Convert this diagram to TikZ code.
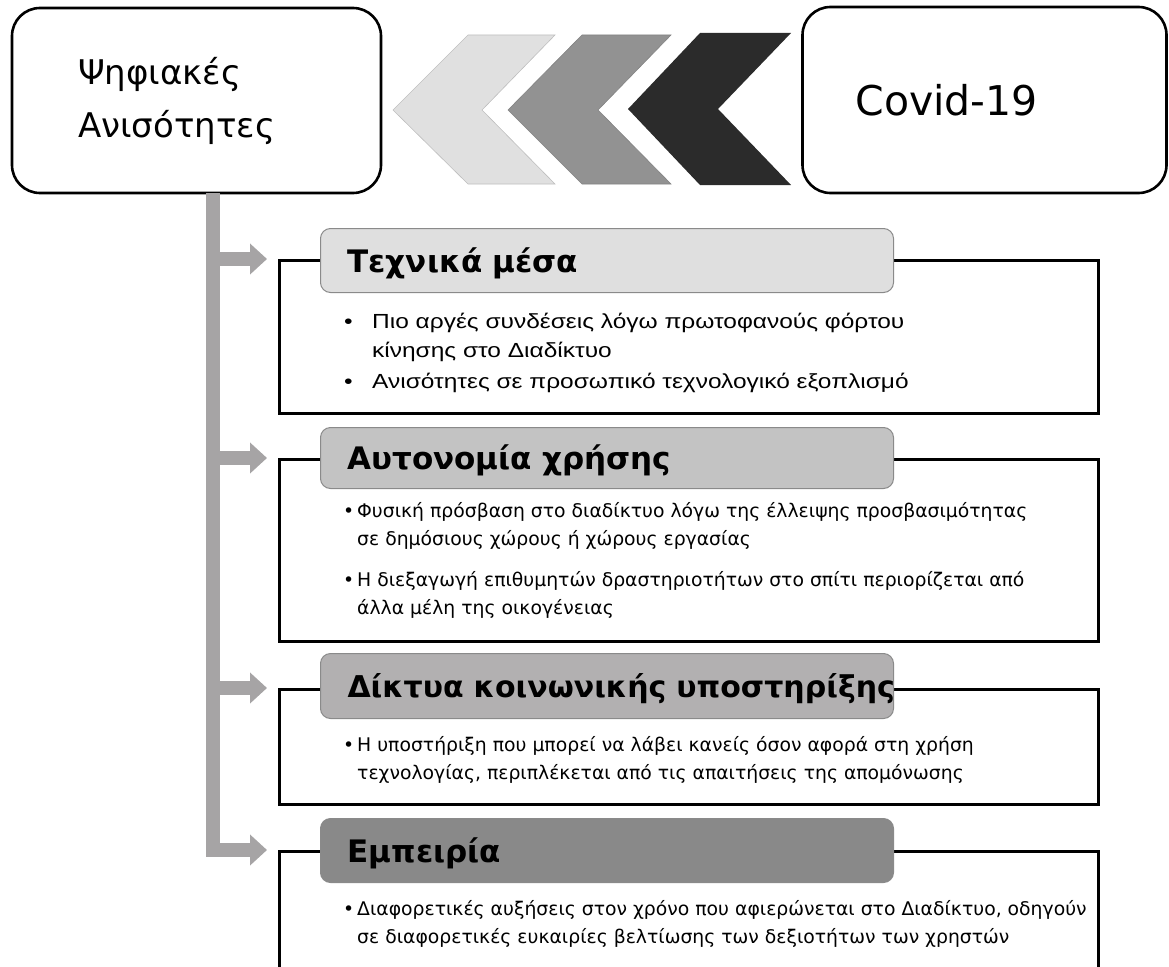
\documentclass[tikz,border=0pt]{standalone}
\usepackage{fontspec}
\setmainfont{DejaVu Sans}
\newfontfamily\dvsfam{DejaVu Sans}
\newfontfamily\arialfam{Liberation Sans}[FakeStretch=1.2]
\usetikzlibrary{arrows.meta}
\definecolor{hA}{HTML}{DFDFDF}
\definecolor{hB}{HTML}{C3C3C3}
\definecolor{hC}{HTML}{B2B0B1}
\definecolor{hD}{HTML}{898989}
\definecolor{barcol}{HTML}{A6A4A5}
\definecolor{cvA}{HTML}{E0E0E0}
\definecolor{cvB}{HTML}{929292}
\definecolor{cvC}{HTML}{2B2B2B}
\definecolor{hdrline}{HTML}{8A8A8A}
\newcommand\hdfnt{\dvsfam\bfseries\fontsize{31}{37}\selectfont}
\newcommand\sAfnt{\arialfam\fontsize{20.4}{29}\selectfont}
\newcommand\sBfnt{\dvsfam\fontsize{18.8}{27.5}\selectfont}
\begin{document}
\begin{tikzpicture}[x=1pt,y=-1pt,
  mainbox/.style={draw=black, line width=2.6pt, rounded corners=28pt, fill=white, align=left},
  hdr/.style={draw=hdrline, line width=1pt, rounded corners=10pt, anchor=north west,
    minimum width=573pt, text width=519pt, inner xsep=27pt, inner ysep=0pt,
    text height=23pt, text depth=0pt, align=left, font=\hdfnt},
  bodybox/.style={draw=black, line width=2.8pt, anchor=north west, minimum width=819pt, fill=white},
  itemA/.style={anchor=base west, align=left, inner sep=0pt, font=\sAfnt},
  itemB/.style={anchor=base west, align=left, inner sep=0pt, font=\sBfnt},
  bar/.style={draw=barcol, line width=14pt, -{Triangle[length=17pt,width=30pt]}}
]
\useasboundingbox (0,0) rectangle (1169,966);

% chevrons
\filldraw[fill=cvA, draw=cvA!85!black, line width=0.6pt] (393,110) -- (468,35) -- (555,35) -- (482,110) -- (555,184) -- (468,184) -- cycle;
\filldraw[fill=cvB, draw=cvB!90!black, line width=0.6pt] (508,110) -- (582,35) -- (671,35) -- (598,110) -- (671,184) -- (582,184) -- cycle;
\fill[cvC] (628,109) -- (700,33) -- (791,33) -- (718,109) -- (791,185) -- (700,185) -- cycle;

% main boxes
\node[mainbox, minimum width=369pt, minimum height=185pt, text width=237pt, inner xsep=66pt,
  font=\dvsfam\fontsize{34}{53}\selectfont] (psi) at (196.5,100.5) {Ψηφιακές\\Ανισότητες};
\node[mainbox, minimum width=364pt, minimum height=186pt, text width=258pt, inner xsep=53pt,
  font=\dvsfam\fontsize{41}{48}\selectfont] (covid) at (984.5,100) {Covid-19};

% body boxes
\node[bodybox, minimum height=153pt] (b1) at (278,259) {};
\node[bodybox, minimum height=182pt] (b2) at (278,458) {};
\node[bodybox, minimum height=115pt] (b3) at (278,688) {};
\node[bodybox, minimum height=140pt] (b4) at (278,850) {};

% bar with arrows
\coordinate (bartop) at (213,193);
\draw[bar] (bartop) |- ([xshift=-11pt]b4.north west);
\draw[bar] (bartop) |- ([xshift=-11pt]b3.north west);
\draw[bar] (bartop) |- ([xshift=-11pt]b2.north west);
\draw[bar] (bartop) |- ([xshift=-11pt]b1.north west);

% headers
\node[hdr, fill=hA, minimum height=64pt] (h1) at (320,228) {Τεχνικά μέσα};
\node[hdr, fill=hB, minimum height=61pt] (h2) at (320,427) {Αυτονομία χρήσης};
\node[hdr, fill=hC, minimum height=65pt, font=\dvsfam\bfseries\fontsize{30}{36}\selectfont] (h3) at (320,653) {\mbox{Δίκτυα κοινωνικής υποστηρίξης}};
\node[hdr, fill=hD, minimum height=64pt] (h4) at (320,818) {Εμπειρία};

% items (base anchor = baseline of last line)
\node[itemA] (t1a) at (344,357) {\makebox[28pt][l]{•}Πιο αργές συνδέσεις λόγω πρωτοφανούς φόρτου\\\hspace*{28pt}κίνησης στο Διαδίκτυο};
\node[itemA] (t1b) at (344,388) {\makebox[28pt][l]{•}Ανισότητες σε προσωπικό τεχνολογικό εξοπλισμό};

\node[itemB] (t2a) at (343,545) {\makebox[14pt][l]{•}Φυσική πρόσβαση στο διαδίκτυο λόγω της έλλειψης προσβασιμότητας\\\hspace*{14pt}σε δημόσιους χώρους ή χώρους εργασίας};
\node[itemB] (t2b) at (343,614) {\makebox[14pt][l]{•}Η διεξαγωγή επιθυμητών δραστηριοτήτων στο σπίτι περιορίζεται από\\\hspace*{14pt}άλλα μέλη της οικογένειας};

\node[itemB] (t3a) at (343,779) {\makebox[14pt][l]{•}Η υποστήριξη που μπορεί να λάβει κανείς όσον αφορά στη χρήση\\\hspace*{14pt}τεχνολογίας, περιπλέκεται από τις απαιτήσεις της απομόνωσης};

\node[itemB] (t4a) at (343,943) {\makebox[14pt][l]{•}Διαφορετικές αυξήσεις στον χρόνο που αφιερώνεται στο Διαδίκτυο, οδηγούν\\\hspace*{14pt}σε διαφορετικές ευκαιρίες βελτίωσης των δεξιοτήτων των χρηστών};
\end{tikzpicture}
\end{document}
